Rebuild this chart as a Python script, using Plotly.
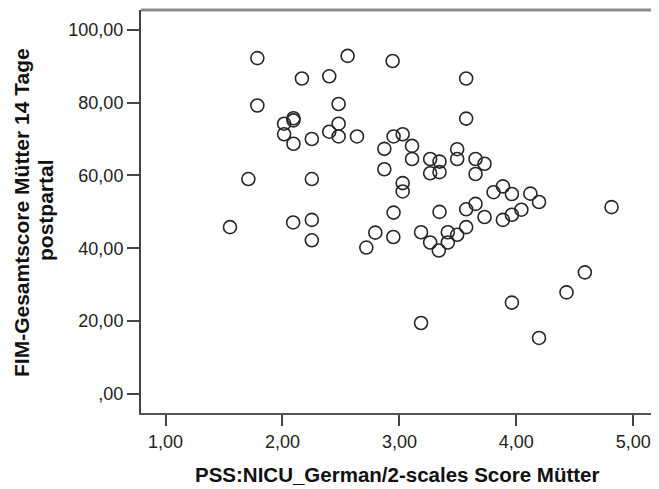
import plotly.graph_objects as go

# PSS:NICU score (x) and FIM total score (y) per mother
pss = [1.785, 2.557, 2.942, 2.166, 2.40, 1.785, 2.48, 2.014, 2.094, 2.094,
       2.48, 2.40, 2.014, 2.48, 2.637, 2.251, 2.094, 2.950, 3.028, 2.871,
       2.871, 1.708, 2.251, 1.551, 2.091, 2.251, 2.251, 2.717, 2.794, 2.950,
       2.948, 3.571, 3.571, 3.108, 3.108, 3.263, 3.343, 3.263, 3.343, 3.494,
       3.494, 3.651, 3.728, 3.651, 3.028, 3.028, 3.805, 3.885, 3.962, 4.12,
       4.194, 4.814, 3.343, 3.571, 3.651, 3.728, 3.885, 3.962, 4.043, 3.185,
       3.263, 3.337, 3.414, 3.414, 3.494, 3.571, 4.586, 4.429, 3.962, 3.185,
       4.194]
fim = [92.2, 92.8, 91.4, 86.6, 87.2, 79.2, 79.6, 74.2, 75.7, 75.1,
       74.2, 72.0, 71.3, 70.7, 70.7, 70.0, 68.7, 70.7, 71.3, 67.3,
       61.7, 59.0, 59.0, 45.8, 47.1, 47.8, 42.2, 40.2, 44.3, 49.8,
       43.1, 86.6, 75.6, 68.1, 64.5, 64.5, 63.8, 60.6, 60.9, 67.2,
       64.5, 64.5, 63.2, 60.4, 57.9, 55.6, 55.4, 57.0, 54.9, 55.0,
       52.7, 51.3, 50.0, 50.7, 52.2, 48.6, 47.8, 49.2, 50.6, 44.4,
       41.6, 39.4, 44.4, 41.6, 43.7, 45.8, 33.4, 27.9, 25.1, 19.5,
       15.4]

x_ticks = [1, 2, 3, 4, 5]
x_labels = ["1,00", "2,00", "3,00", "4,00", "5,00"]
y_ticks = [0, 20, 40, 60, 80, 100]
y_labels = [",00", "20,00", "40,00", "60,00", "80,00", "100,00"]

x_title = "PSS:NICU_German/2-scales Score Mütter"
y_title_1 = "FIM-Gesamtscore Mütter 14 Tage"
y_title_2 = "postpartal"

font_family = "Liberation Sans, Arial, sans-serif"

# the page body has an 8px margin, so the figure is drawn 8px right/down
OFF = 8
W, H = 659 - OFF, 489 - OFF
L, T, B = 141 - OFF, 10 - OFF, 76
pw, ph = W - L, H - T - B


def px_to_paper_x(px):
    return (px - OFF - L) / pw


def px_to_paper_y(py):
    return (H - B - (py - OFF)) / ph


fig = go.Figure(go.Scatter(
    x=pss, y=fim, mode="markers",
    marker=dict(symbol="circle-open", size=13, color="#262626",
                line=dict(width=1.6, color="#262626")),
    hoverinfo="x+y",
))

fig.update_layout(
    width=W, height=H,
    margin=dict(l=L, r=0, t=T, b=B, autoexpand=False),
    paper_bgcolor="white", plot_bgcolor="white",
    showlegend=False,
    font=dict(family=font_family, color="#1a1a1a"),
    xaxis=dict(
        range=[0.79, 5.22], tickvals=x_ticks, ticktext=x_labels,
        automargin=False,
        showgrid=False, zeroline=False,
        showline=True, linecolor="#555555", linewidth=2,
        ticks="outside", ticklen=11, tickwidth=2, tickcolor="#444444",
        tickfont=dict(size=18, color="#222222"),
    ),
    yaxis=dict(
        range=[-5.2, 105.4], tickvals=y_ticks, ticktext=y_labels,
        automargin=False,
        showgrid=False, zeroline=False,
        showline=True, linecolor="#444444", linewidth=2,
        ticks="outside", ticklen=12, tickwidth=2, tickcolor="#444444",
        tickfont=dict(size=18, color="#222222"),
    ),
    shapes=[dict(type="line", xref="paper", yref="paper", x0=0, x1=1, y0=1, y1=1,
                 line=dict(color="#8c8c8c", width=3))],
    annotations=[
        dict(text="<b>" + x_title + "</b>", xref="paper", yref="paper",
             x=px_to_paper_x(397), y=px_to_paper_y(475),
             xanchor="center", yanchor="middle", showarrow=False,
             font=dict(size=20.5, color="#111111", family=font_family)),
        dict(text="<b>" + y_title_1 + "</b>", xref="paper", yref="paper",
             x=px_to_paper_x(21), y=px_to_paper_y(213), textangle=-90,
             xanchor="center", yanchor="middle", showarrow=False,
             font=dict(size=21, color="#111111", family=font_family)),
        dict(text="<b>" + y_title_2 + "</b>", xref="paper", yref="paper",
             x=px_to_paper_x(45), y=px_to_paper_y(210), textangle=-90,
             xanchor="center", yanchor="middle", showarrow=False,
             font=dict(size=21, color="#111111", family=font_family)),
    ],
)

fig.write_html("out.html")
